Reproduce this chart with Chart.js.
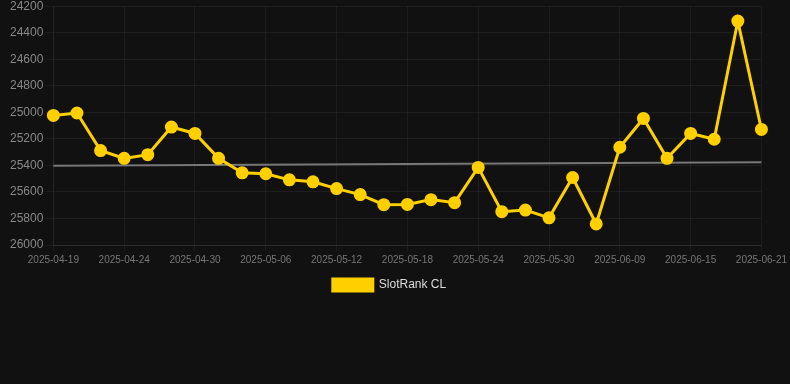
<!DOCTYPE html>
<html>
<head>
<meta charset="utf-8">
<script src="https://cdn.jsdelivr.net/npm/chart.js@4/dist/chart.umd.min.js"></script>
<style>
  html, body { margin: 0; padding: 0; background: #111111; overflow: hidden; }
  #wrap { width: 790px; height: 304px; position: relative; top: -3px; }
</style>
</head>
<body>
<div id="wrap"><canvas id="c"></canvas></div>
<script>
const dates = [
  "2025-04-19","2025-04-21","2025-04-22","2025-04-24","2025-04-26","2025-04-28",
  "2025-04-30","2025-05-02","2025-05-04","2025-05-06","2025-05-08","2025-05-10",
  "2025-05-12","2025-05-14","2025-05-16","2025-05-18","2025-05-20","2025-05-22",
  "2025-05-24","2025-05-26","2025-05-28","2025-05-30","2025-06-01","2025-06-05",
  "2025-06-09","2025-06-11","2025-06-13","2025-06-15","2025-06-17","2025-06-19",
  "2025-06-21"
];
const rankValues = [
  25023, 25005, 25288, 25347, 25319, 25111,
  25159, 25347, 25456, 25463, 25509, 25524,
  25575, 25620, 25696, 25694, 25658, 25681,
  25415, 25749, 25737, 25795, 25491, 25841,
  25263, 25046, 25347, 25159, 25203, 24312,
  25129
];
const trendValues = [25403].concat(new Array(29).fill(null), [25377]);
const yMin = 24200, yMax = 26000, yStep = 200;

new Chart(document.getElementById('c'), {
  type: 'line',
  data: {
    labels: dates,
    datasets: [
      {
        label: 'SlotRank CL',
        data: rankValues,
        borderColor: '#ffd000',
        backgroundColor: '#ffd000',
        borderWidth: 3,
        pointRadius: 5,
        pointHoverRadius: 5,
        pointBackgroundColor: '#ffd000',
        pointBorderColor: '#ffd000',
        tension: 0
      },
      {
        label: 'trend',
        data: trendValues,
        borderColor: '#777777',
        borderWidth: 2,
        pointRadius: 0,
        spanGaps: true,
        tension: 0
      }
    ]
  },
  options: {
    responsive: true,
    maintainAspectRatio: false,
    animation: false,
    layout: { padding: { top: 0, right: 19, left: 8, bottom: 0 } },
    plugins: {
      legend: {
        position: 'bottom',
        labels: {
          color: '#dddddd',
          font: { family: 'Liberation Sans, Arial, sans-serif', size: 12 },
          boxWidth: 40,
          boxHeight: 12,
          filter: (item) => item.text !== 'trend'
        }
      },
      tooltip: { enabled: false }
    },
    scales: {
      x: {
        offset: false,
        grid: { color: 'rgba(255,255,255,0.05)', drawTicks: true, tickLength: 6 },
        border: { color: 'rgba(255,255,255,0.08)' },
        ticks: {
          color: '#777777',
          font: { family: 'Liberation Sans, Arial, sans-serif', size: 10 },
          maxRotation: 0,
          autoSkip: true,
          padding: 3,
          callback: function(v, i) { return i % 3 === 0 ? dates[i] : null; }
        }
      },
      y: {
        reverse: true,
        min: yMin,
        max: yMax,
        grid: { color: 'rgba(255,255,255,0.05)', tickLength: 8 },
        border: { color: 'rgba(255,255,255,0.05)' },
        ticks: {
          stepSize: yStep,
          color: '#888888',
          font: { family: 'Liberation Sans, Arial, sans-serif', size: 12 },
          padding: 2,
          callback: (v) => String(v)
        }
      }
    }
  }
});
</script>
</body>
</html>
